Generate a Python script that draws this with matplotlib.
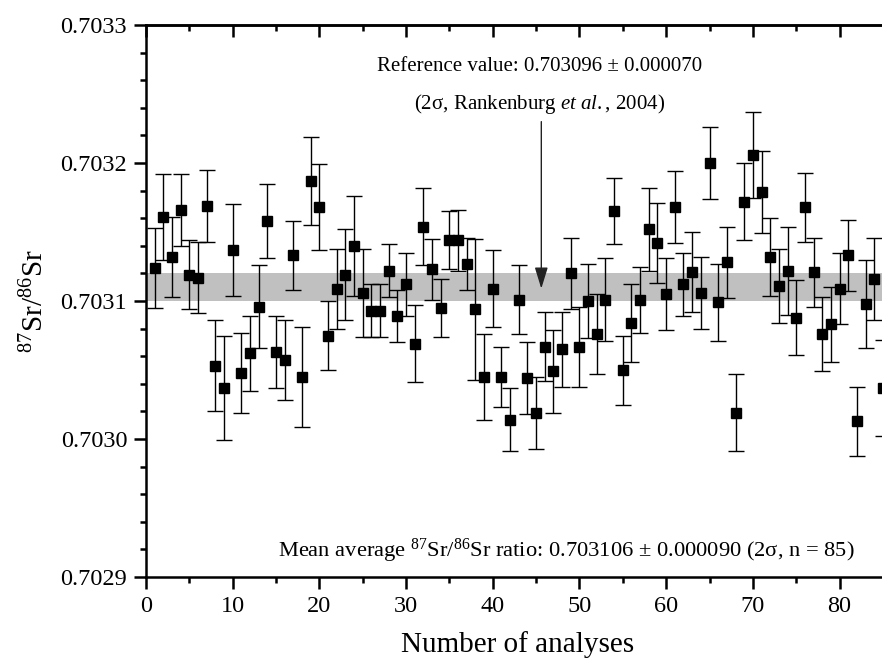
import matplotlib
matplotlib.use("Agg")
import matplotlib.pyplot as plt
from matplotlib.ticker import MultipleLocator, FormatStrFormatter

plt.rcParams['font.family'] = ['Liberation Serif', 'DejaVu Serif']
plt.rcParams['mathtext.fontset'] = 'custom'
plt.rcParams['mathtext.rm'] = 'Liberation Serif'
plt.rcParams['mathtext.it'] = 'Liberation Serif:italic'

# analysis number
analysis = list(range(1, 87))

# measured 87Sr/86Sr
ratio = [0.703124, 0.703161, 0.703132, 0.703166, 0.703119, 0.703117, 0.703169, 0.703053,
         0.703037, 0.703137, 0.703048, 0.703062, 0.703096, 0.703158, 0.703063, 0.703057,
         0.703133, 0.703045, 0.703187, 0.703168, 0.703075, 0.703109, 0.703119, 0.703140,
         0.703106, 0.703093, 0.703093, 0.703122, 0.703089, 0.703112, 0.703069, 0.703154,
         0.703123, 0.703095, 0.703144, 0.703144, 0.703127, 0.703094, 0.703045, 0.703109,
         0.703045, 0.703014, 0.703101, 0.703044, 0.703019, 0.703067, 0.703049, 0.703065,
         0.703120, 0.703067, 0.703100, 0.703076, 0.703101, 0.703165, 0.703050, 0.703084,
         0.703101, 0.703152, 0.703142, 0.703105, 0.703168, 0.703112, 0.703121, 0.703106,
         0.703200, 0.703099, 0.703128, 0.703019, 0.703172, 0.703206, 0.703179, 0.703132,
         0.703111, 0.703122, 0.703088, 0.703168, 0.703121, 0.703076, 0.703083, 0.703109,
         0.703133, 0.703013, 0.703098, 0.703116, 0.703037, 0.703150]

# 2 sigma errors
err = [0.000029, 0.000031, 0.000029, 0.000026, 0.000025, 0.000026, 0.000026, 0.000033,
       0.000038, 0.000033, 0.000029, 0.000027, 0.000030, 0.000027, 0.000026, 0.000029,
       0.000025, 0.000036, 0.000032, 0.000031, 0.000025, 0.000029, 0.000033, 0.000036,
       0.000032, 0.000019, 0.000019, 0.000019, 0.000019, 0.000023, 0.000028, 0.000028,
       0.000022, 0.000021, 0.000021, 0.000022, 0.000019, 0.000051, 0.000031, 0.000028,
       0.000022, 0.000023, 0.000025, 0.000026, 0.000026, 0.000025, 0.000030, 0.000027,
       0.000026, 0.000029, 0.000027, 0.000029, 0.000030, 0.000024, 0.000025, 0.000028,
       0.000024, 0.000030, 0.000029, 0.000026, 0.000026, 0.000023, 0.000029, 0.000026,
       0.000026, 0.000028, 0.000026, 0.000028, 0.000028, 0.000031, 0.000030, 0.000028,
       0.000027, 0.000032, 0.000027, 0.000025, 0.000025, 0.000027, 0.000027, 0.000026,
       0.000026, 0.000025, 0.000032, 0.000030, 0.000035, 0.000050]

band_low, band_high = 0.70310, 0.70312
ref_x, ref_y = 45.6, 0.703109

fig = plt.figure(figsize=(8.82, 6.64), dpi=100)
ax = fig.add_axes([0.1655, 0.131, 0.8424, 0.8313])

ax.axhspan(band_low, band_high, color='#c0c0c0', lw=0, zorder=0)
ax.errorbar(analysis, ratio, yerr=err, fmt='s', color='black', ms=6.5,
            ecolor='black', elinewidth=1, capsize=6, capthick=1, zorder=3)

ax.annotate('', xy=(ref_x, ref_y), xytext=(ref_x, 0.70323),
            arrowprops=dict(arrowstyle='-|>,head_length=0.65,head_width=0.2',
                            color='#222222', lw=1, mutation_scale=20,
                            shrinkA=0, shrinkB=0))
ax.text(45.4, 0.70327, 'Reference value: 0.703096 \u00b1 0.000070',
        ha='center', va='center', fontsize=15)
ax.text(45.4, 0.703243, '(2\u03c3, Rankenburg $\\it{et\\ al.}$, 2004)',
        ha='center', va='center', fontsize=15)
ax.text(48.5, 0.702919,
        'Mean average $^{87}$Sr/$^{86}$Sr ratio: 0.703106 \u00b1 0.000090 (2\u03c3, n = 85)',
        ha='center', va='center', fontsize=16.2)

ax.set_xlim(0, 85.7)
ax.set_ylim(0.7029, 0.7033)
ax.set_xticks([0, 10, 20, 30, 40, 50, 60, 70, 80])
ax.xaxis.set_minor_locator(MultipleLocator(5))
ax.set_yticks([0.7029, 0.7030, 0.7031, 0.7032, 0.7033])
ax.yaxis.set_minor_locator(MultipleLocator(0.00002))
ax.yaxis.set_major_formatter(FormatStrFormatter('%.4f'))

ax.tick_params(which='major', direction='out', length=8.5, width=1.8, labelsize=17.5, pad=5)
ax.tick_params(which='minor', direction='out', length=4.5, width=1.8)
ax.tick_params(right=False, top=False)
for s in ax.spines.values():
    s.set_linewidth(1.8)
ax.spines['right'].set_visible(False)

top = ax.secondary_xaxis('top')
top.set_xticks([0, 10, 20, 30, 40, 50, 60, 70, 80])
top.xaxis.set_minor_locator(MultipleLocator(5))
top.tick_params(which='major', direction='in', length=8.5, width=1.8, labeltop=False)
top.tick_params(which='minor', direction='in', length=4.5, width=1.8)
top.spines['top'].set_linewidth(1.8)

ax.set_xlabel('Number of analyses', fontsize=21, labelpad=10)
ax.set_ylabel('$^{87}$Sr/$^{86}$Sr', fontsize=21, labelpad=8)

fig.savefig('out.png', dpi=100)
